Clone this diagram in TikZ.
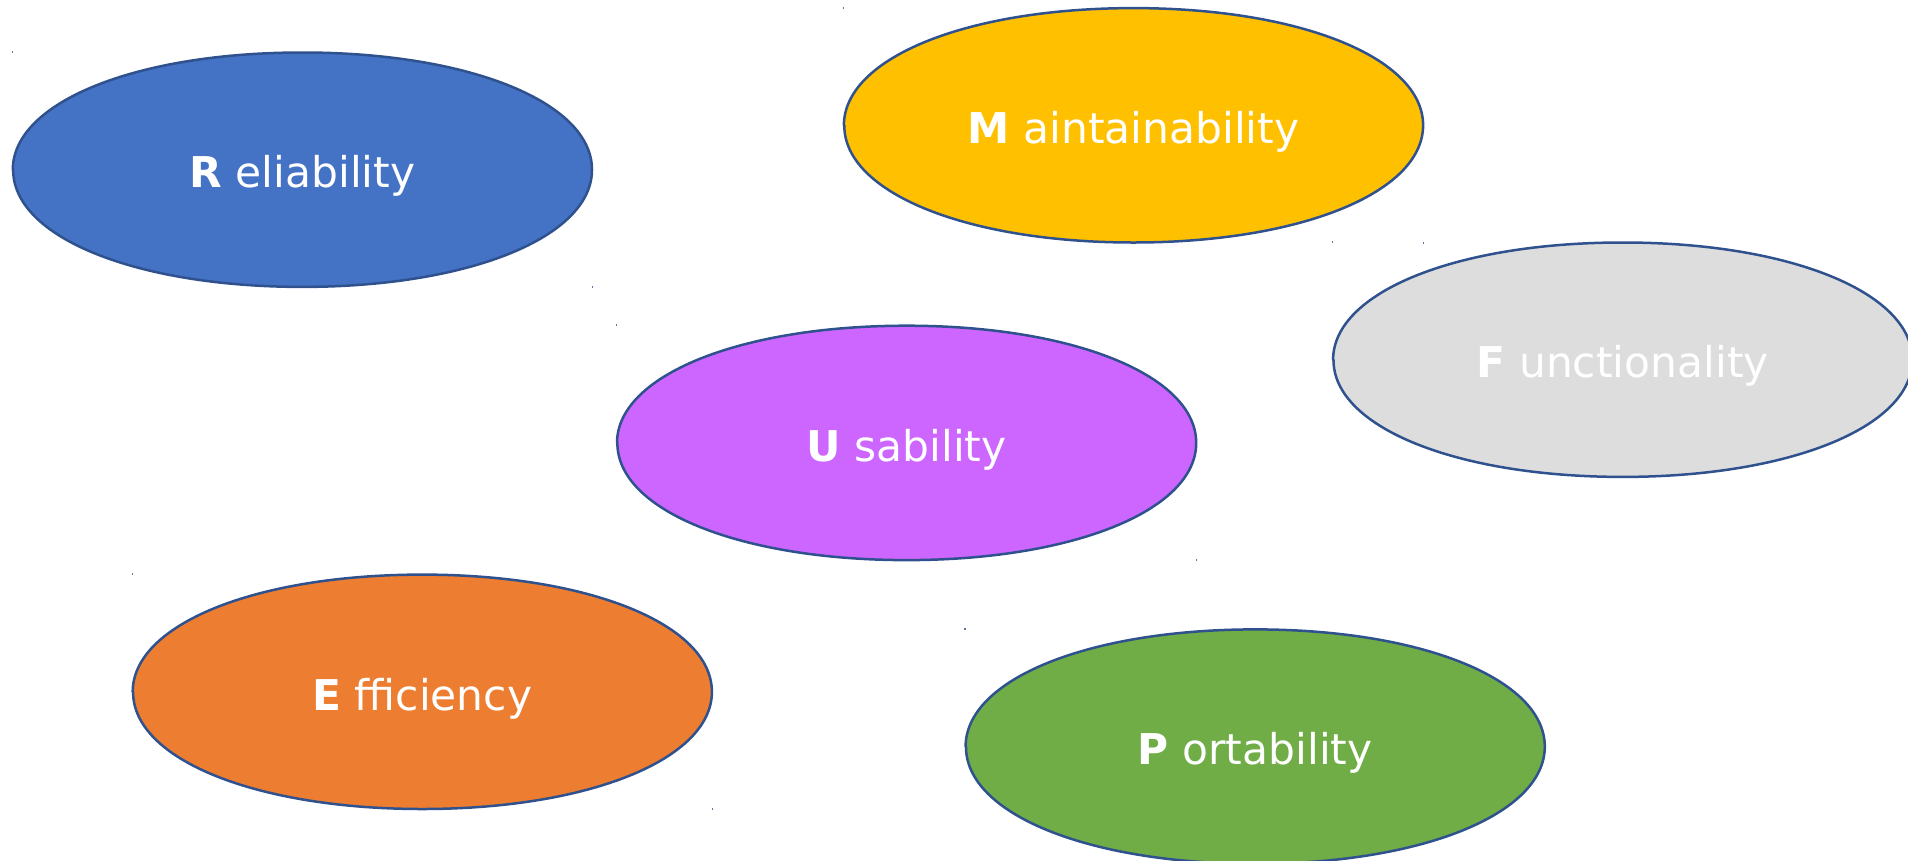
\documentclass[tikz,border=0pt]{standalone}
\usepackage{fontspec}
\setmainfont{DejaVu Sans}
\usetikzlibrary{shapes.geometric}
\definecolor{outl}{HTML}{2F528F}
\definecolor{cRel}{HTML}{4472C4}
\definecolor{cMain}{HTML}{FFC000}
\definecolor{cFunc}{HTML}{DDDDDD}
\definecolor{cUsab}{HTML}{CC66FF}
\definecolor{cEff}{HTML}{ED7D31}
\definecolor{cPort}{HTML}{70AD47}
\tikzset{
  attr/.style={ellipse, minimum width=579pt, minimum height=234pt,
    inner sep=0pt, text=white, font=\fontsize{42.4pt}{50pt}\selectfont},
  blobline/.style={draw=outl, line width=2.5pt, line join=round},
  speck/.style={fill=outl!80, draw=none}
}
\newcommand{\attrlabel}[2]{\textbf{#1} #2}
% oval outline centred on a named coordinate
\newcommand{\blobat}[2]{%
  \path[blobline, fill=#2, shift={(#1)}, xscale=289.6, yscale=117.2]
    (-1,0) .. controls (-1,-0.575) and (-0.575,-1) .. (0,-1)
           .. controls (0.575,-1) and (1,-0.575) .. (1,0)
           .. controls (1,0.575) and (0.575,1) .. (0,1)
           .. controls (-0.575,1) and (-1,0.575) .. cycle;}
\begin{document}
\begin{tikzpicture}[x=1pt,y=-1pt]
\useasboundingbox (0,0) rectangle (1908,860);
\clip (0,0) rectangle (1908,860);
\coordinate (relc)  at (302.4,169.7);
\coordinate (mainc) at (1133.5,125.3);
\coordinate (funcc) at (1622.7,359.7);
\coordinate (usabc) at (906.6,442.9);
\coordinate (effc)  at (422.3,691.8);
\coordinate (portc) at (1255.2,746.6);
\blobat{relc}{cRel}
\blobat{mainc}{cMain}
\blobat{funcc}{cFunc}
\blobat{usabc}{cUsab}
\blobat{effc}{cEff}
\blobat{portc}{cPort}
\node[attr, yshift=-6.5pt] (rel)  at (relc)  {\attrlabel{R}{eliability}};
\node[attr, yshift=-6.5pt] (main) at (mainc) {\attrlabel{M}{aintainability}};
\node[attr, yshift=-6.5pt] (func) at (funcc) {\attrlabel{F}{unctionality}};
\node[attr, yshift=-6.5pt] (usab) at (usabc) {\attrlabel{U}{sability}};
\node[attr, yshift=-6.5pt] (eff)  at (effc)  {\attrlabel{E}{fficiency}};
\node[attr, yshift=-6.5pt] (port) at (portc) {\attrlabel{P}{ortability}};
\foreach \n in {relc,mainc,funcc,usabc,effc,portc}{
  \fill[speck] (\n) ++(-290.2,-117.5) ++(-0.6,-1) rectangle ++(1.2,2);
  \fill[speck] (\n) ++(290.2,117.5) ++(-0.6,-1) rectangle ++(1.2,2);
}
\end{tikzpicture}
\end{document}
